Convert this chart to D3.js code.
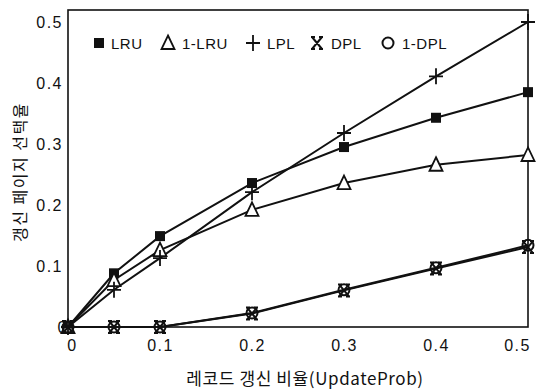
<!DOCTYPE html>
<html>
<head>
<meta charset="utf-8">
<script src="https://cdn.jsdelivr.net/npm/d3@7"></script>
<style>
  html, body { margin: 0; padding: 0; background: #fff; }
  svg text { font-family: "Liberation Sans", Arial, sans-serif; fill: #111; }
  .kr { font-family: "Noto Sans CJK KR", "Noto Sans", sans-serif; }
</style>
</head>
<body>
<svg id="chart" width="541" height="390"></svg>
<script>
// Update probability on the x axis
const updateProb = [0, 0.05, 0.1, 0.2, 0.3, 0.4, 0.5];

// Selection rate of updated pages for each replacement policy
const lru    = [0, 0.088, 0.149, 0.236, 0.295, 0.343, 0.385];
const oneLru = [0, 0.077, 0.126, 0.192, 0.236, 0.266, 0.282];
const lpl    = [0, 0.061, 0.113, 0.221, 0.318, 0.411, 0.500];
const dpl    = [0, 0, 0, 0.022, 0.060, 0.096, 0.131];
const oneDpl = [0, 0, 0, 0.023, 0.061, 0.097, 0.134];

const seriesNames = ["LRU", "1-LRU", "LPL", "DPL", "1-DPL"];
const xTicks = [0, 0.1, 0.2, 0.3, 0.4, 0.5];
const yTicks = [0, 0.1, 0.2, 0.3, 0.4, 0.5];

const xTitle = "레코드 갱신 비율(UpdateProb)";
const yTitle = "갱신 페이지 선택율";

const svg = d3.select("#chart");
const margin = { left: 68, right: 13, top: 10, bottom: 63 };
const W = 541, H = 390;

const x = d3.scaleLinear().domain([0, 0.5]).range([margin.left, W - margin.right]);
const y = d3.scaleLinear().domain([0, 0.5]).range([327, 22]);

// Plot frame
svg.append("rect")
  .attr("x", margin.left).attr("y", margin.top)
  .attr("width", W - margin.right - margin.left)
  .attr("height", y(0) - margin.top)
  .attr("fill", "none").attr("stroke", "#111").attr("stroke-width", 1.6);

// Axes (labels only, no tick marks)
const fmt = d => d === 0 ? "0" : d3.format(".1f")(d);
const xAxis = d3.axisBottom(x).tickValues(xTicks).tickSize(0).tickPadding(13).tickFormat(fmt);
const gx = svg.append("g").attr("transform", `translate(0,${y(0)})`).call(xAxis);
gx.select(".domain").remove();
gx.selectAll("text").attr("font-size", 16).attr("font-family", "Liberation Sans, Arial, sans-serif")
  .attr("fill", "#111").attr("letter-spacing", "1.5px");
gx.selectAll(".tick").filter(d => d === 0).select("text").attr("dx", 4);
gx.selectAll(".tick").filter(d => d === 0.5).select("text").attr("dx", -11);

const yAxis = d3.axisLeft(y).tickValues(yTicks).tickSize(0).tickPadding(5).tickFormat(fmt);
const gy = svg.append("g").attr("transform", `translate(${margin.left},0)`).call(yAxis);
gy.select(".domain").remove();
gy.selectAll("text").attr("font-size", 16).attr("font-family", "Liberation Sans, Arial, sans-serif")
  .attr("fill", "#111").attr("letter-spacing", "1.5px");
gy.selectAll(".tick").filter(d => d === 0).select("text").attr("dx", 5);

// Axis titles
svg.append("text").attr("class", "kr")
  .attr("x", 305).attr("y", 385)
  .attr("text-anchor", "middle").attr("font-size", 17)
  .attr("letter-spacing", "0.6px")
  .text(xTitle);

svg.append("text").attr("class", "kr")
  .attr("transform", "translate(26,172) rotate(-90)")
  .attr("text-anchor", "middle").attr("font-size", 16)
  .attr("letter-spacing", "1.5px")
  .text(yTitle);

// Marker drawing
function marker(g, kind, cx, cy) {
  const s = g.append("g").attr("transform", `translate(${cx},${cy})`);
  if (kind === "LRU") {
    s.append("rect").attr("x", -5).attr("y", -5).attr("width", 10).attr("height", 10)
      .attr("fill", "#111");
  } else if (kind === "1-LRU") {
    s.append("path").attr("d", "M0,-7.5 L6.5,6 L-6.5,6 Z")
      .attr("fill", "#fff").attr("stroke", "#111").attr("stroke-width", 1.8);
  } else if (kind === "LPL") {
    s.append("path").attr("d", "M-7,0 H7 M0,-8 V8")
      .attr("stroke", "#111").attr("stroke-width", 1.8);
  } else if (kind === "DPL") {
    s.append("path").attr("d", "M-5,-6 L5,6 M5,-6 L-5,6 M-6,-6 H-2 M2,-6 H6 M-6,6 H-2 M2,6 H6")
      .attr("stroke", "#111").attr("stroke-width", 2);
  } else if (kind === "1-DPL") {
    s.append("circle").attr("r", 5.5)
      .attr("fill", "none").attr("stroke", "#111").attr("stroke-width", 2);
  }
}

const allSeries = [
  { name: "LRU", values: lru },
  { name: "1-LRU", values: oneLru },
  { name: "LPL", values: lpl },
  { name: "DPL", values: dpl },
  { name: "1-DPL", values: oneDpl }
];

const line = d3.line().x(d => x(d[0])).y(d => y(d[1]));

const plot = svg.append("g");
allSeries.forEach(s => {
  const pts = updateProb.map((p, i) => [p, s.values[i]]);
  plot.append("path").datum(pts).attr("d", line)
    .attr("fill", "none").attr("stroke", "#111").attr("stroke-width", 2);
});
allSeries.forEach(s => {
  updateProb.forEach((p, i) => marker(plot, s.name, x(p), y(s.values[i])));
});

// Legend
const legendX = [99, 168, 253, 317, 388];
const legend = svg.append("g");
seriesNames.forEach((n, i) => {
  marker(legend, n, legendX[i], 43);
  legend.append("text")
    .attr("x", legendX[i] + (n === "LRU" ? 12 : 14)).attr("y", 49)
    .attr("font-size", 15).attr("letter-spacing", "0.5px")
    .text(n);
});
</script>
</body>
</html>
